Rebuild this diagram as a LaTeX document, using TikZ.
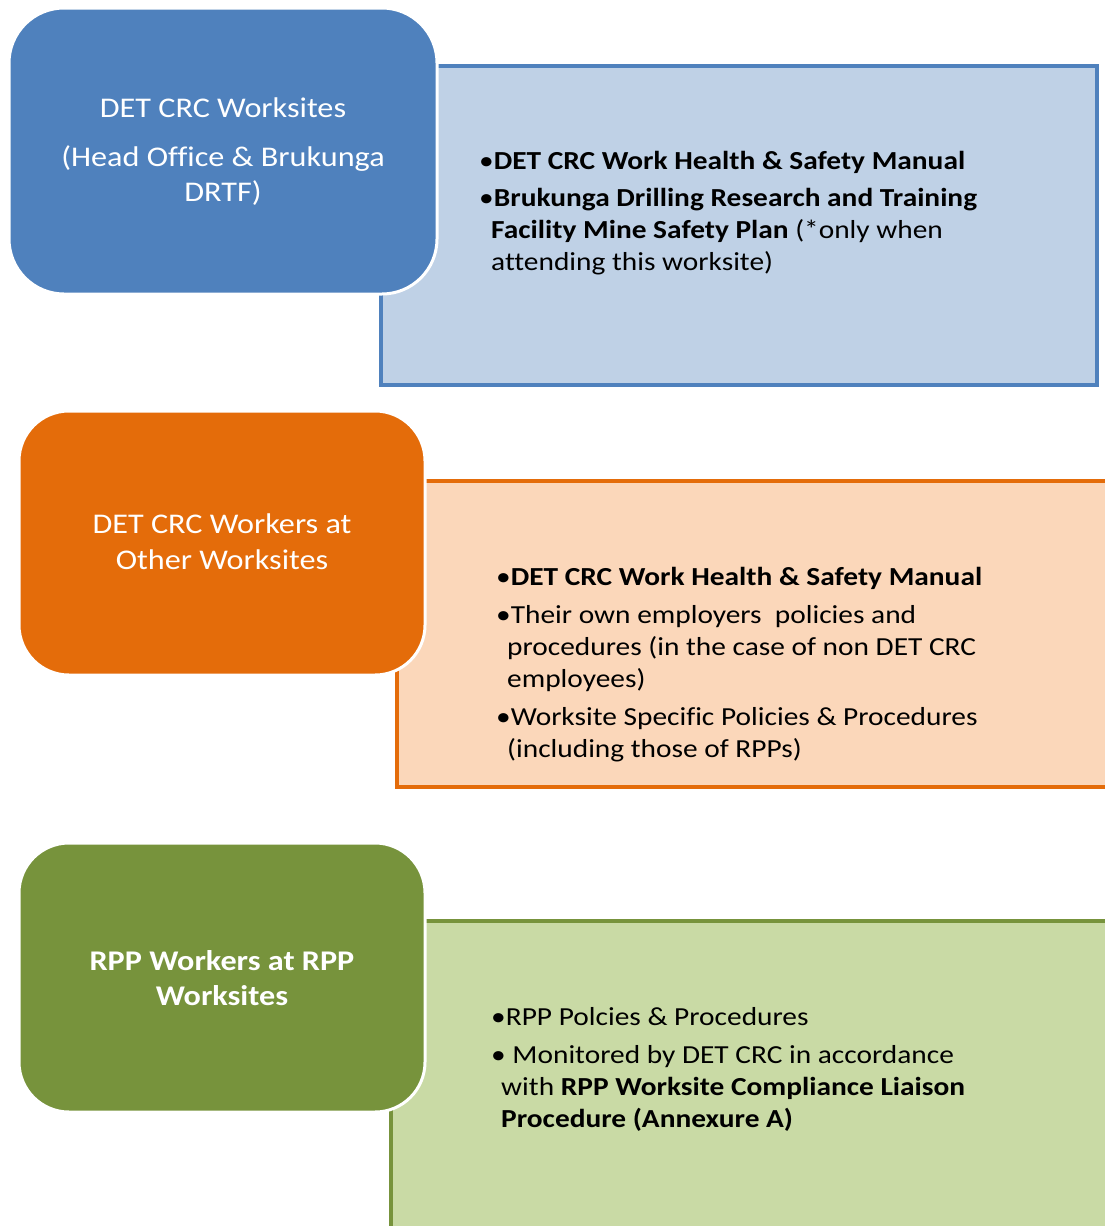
\documentclass[tikz,border=0pt]{standalone}
\usepackage{fontspec}
\setmainfont[FakeStretch=1.13,Ligatures=NoCommon]{Carlito}
\definecolor{bdark}{HTML}{4F81BD}
\definecolor{blight}{HTML}{BFD1E6}
\definecolor{odark}{HTML}{E46C0A}
\definecolor{olight}{HTML}{FBD7BA}
\definecolor{gdark}{HTML}{77933C}
\definecolor{glight}{HTML}{C9DAA5}
\tikzset{
  panel/.style={rectangle, line width=4pt, inner sep=0pt, outer sep=0pt},
  headbox/.style={rectangle, rounded corners=55pt, draw=white, line width=3pt, inner sep=0pt, outer sep=0pt},
  headtxt/.style={anchor=base, inner sep=0pt, text=white, font=\fontsize{28.5}{34}\selectfont},
  bodytxt/.style={anchor=base west, inner sep=0pt, text=black, font=\fontsize{26}{32}\selectfont}
}
\begin{document}
\begin{tikzpicture}[x=1pt,y=-1pt]
\useasboundingbox (0,0) rectangle (1105,1226);
% panel 1
\node[panel, draw=bdark, fill=blight, minimum width=716pt, minimum height=319pt] (r1) at (739,225.5) {};
\node[headbox, fill=bdark, minimum width=428pt, minimum height=286pt] (b1) at (223,151) {};
\node[headtxt] (b1a) at (223,117) {DET CRC Worksites};
\node[headtxt] (b1b) at (223,166) {(Head Office \& Brukunga};
\node[headtxt] (b1c) at (223,201) {DRTF)};
\node[bodytxt] (r1a) at (479,169) {•\textbf{DET CRC Work Health \& Safety Manual}};
\node[bodytxt] (r1b) at (479,206) {•\textbf{Brukunga Drilling Research and Training}};
\node[bodytxt] (r1c) at (491,238) {\textbf{Facility Mine Safety Plan} (*only when};
\node[bodytxt] (r1d) at (491,270) {attending this worksite)};
% panel 2
\node[panel, draw=odark, fill=olight, minimum width=715pt, minimum height=306pt] (r2) at (754.5,634) {};
\node[headbox, fill=odark, rounded corners=50pt, minimum width=406pt, minimum height=264pt] (b2) at (222,543) {};
\node[headtxt] (b2a) at (222,533) {DET CRC Workers at};
\node[headtxt] (b2b) at (222,569) {Other Worksites};
\node[bodytxt] (r2a) at (496,585) {•\textbf{DET CRC Work Health \& Safety Manual}};
\node[bodytxt] (r2b) at (496,623) {•Their own employers\ \ policies and};
\node[bodytxt] (r2c) at (507,655) {procedures (in the case of non DET CRC};
\node[bodytxt] (r2d) at (507,687) {employees)};
\node[bodytxt] (r2e) at (496,725) {•Worksite Specific Policies \& Procedures};
\node[bodytxt] (r2f) at (507,757) {(including those of RPPs)};
% panel 3
\node[panel, draw=gdark, fill=glight, minimum width=721pt, minimum height=319pt] (r3) at (751.5,1080.5) {};
\node[headbox, fill=gdark, rounded corners=50pt, minimum width=406pt, minimum height=269pt] (b3) at (222,977.5) {};
\node[headtxt, font=\fontsize{28.5}{34}\selectfont\bfseries] (b3a) at (222,970) {RPP Workers at RPP};
\node[headtxt, font=\fontsize{28.5}{34}\selectfont\bfseries] (b3b) at (222,1005) {Worksites};
\node[bodytxt] (r3a) at (491,1025) {•RPP Polcies \& Procedures};
\node[bodytxt] (r3b) at (491,1063) {• Monitored by DET CRC in accordance};
\node[bodytxt] (r3c) at (501,1095) {with \textbf{RPP Worksite Compliance Liaison}};
\node[bodytxt] (r3d) at (501,1127) {\textbf{Procedure (Annexure A)}};
\end{tikzpicture}
\end{document}
